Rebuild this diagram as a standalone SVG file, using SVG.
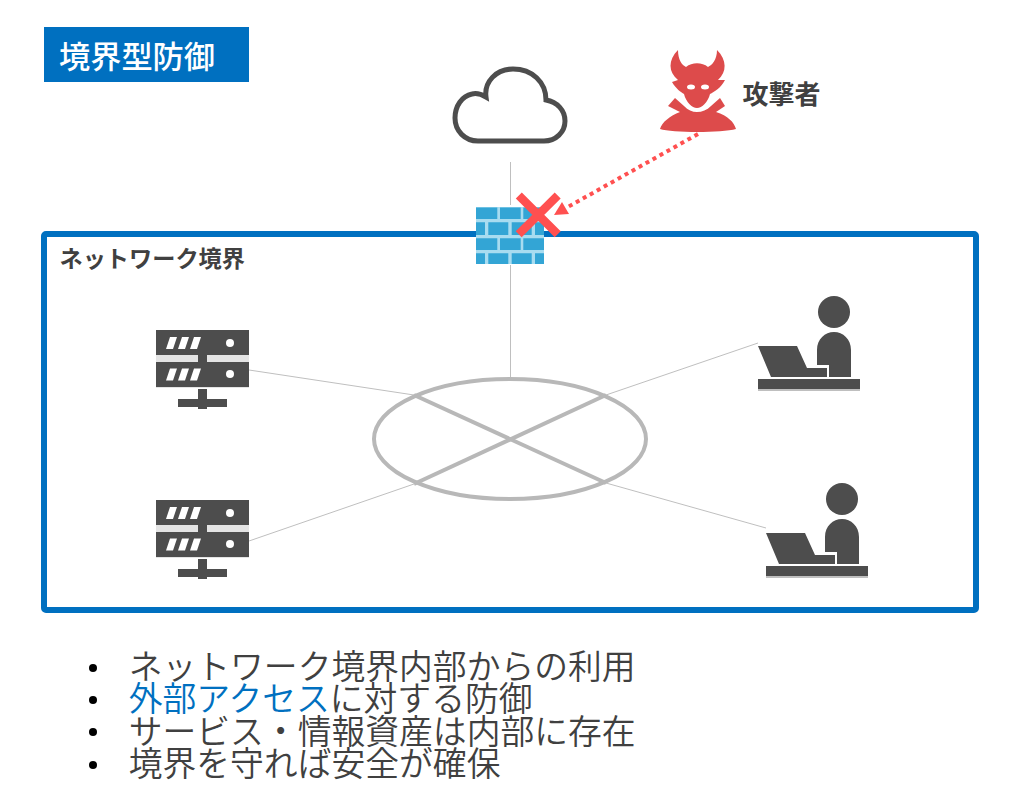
<svg xmlns="http://www.w3.org/2000/svg" width="1021" height="811" viewBox="0 0 1021 811">
<style>
text{font-family:"Noto Sans CJK JP","Noto Sans",sans-serif;fill:#404040}
.thin{stroke:#bfbfbf;stroke-width:1;fill:none}
.thick{stroke:#b8b8b8;stroke-width:4;fill:none}
.dk{fill:#4d4d4d}
.wh{fill:#fff}
.brick{fill:#33a5d5}
.b{font-size:33.800px;font-weight:350}
.dot{fill:#000}
</style>
<defs>
<g id="srv">
<rect x="156" y="330" width="93" height="58" fill="#e4e4e4"/>
<rect class="dk" x="156" y="330" width="93" height="25"/>
<rect class="dk" x="198" y="355" width="9" height="8"/>
<rect class="dk" x="156" y="362" width="93" height="25"/>
<rect class="dk" x="198" y="389" width="9" height="20"/>
<rect class="dk" x="178" y="399" width="49" height="8"/>
<path class="wh" d="M170 337h7l-4 12h-7zM182 337h7l-4 12h-7zM194 337h7l-4 12h-7zM170 368.500h7l-4 12h-7zM182 368.500h7l-4 12h-7zM194 368.500h7l-4 12h-7z"/>
<circle class="wh" cx="230" cy="343" r="4"/>
<circle class="wh" cx="230" cy="374" r="4"/>
</g>
<g id="usr">
<circle class="dk" cx="834" cy="312" r="16"/>
<path class="dk" d="M817 365V350C817 339 825 332 834 332C843 332 851 339 851 350V377H829V365Z"/>
<path class="dk" d="M758 346H797L807 368H827V377H771Z"/>
<rect class="dk" x="758" y="379" width="102" height="10"/>
<rect x="758" y="389" width="102" height="2" fill="#bfbfbf"/>
</g>
</defs>
<g id="title">
<rect x="44" y="27" width="205" height="55" fill="#0070c0"/>
<text x="59" y="68" font-size="31.200" font-weight="500" style="fill:#fff">境界型防御</text>
</g>
<g id="boundary">
<rect x="44" y="234" width="932" height="376" rx="2" fill="none" stroke="#0070c0" stroke-width="6"/>
<text x="59.500" y="267" font-size="23.200" font-weight="700">ネットワーク境界</text>
</g>
<g id="connectors">
<line class="thin" x1="510.500" y1="162" x2="510.500" y2="378"/>
<line class="thin" x1="249" y1="370" x2="414" y2="395"/>
<line class="thin" x1="249" y1="541" x2="414" y2="484"/>
<line class="thin" x1="758" y1="343" x2="606" y2="395"/>
<line class="thin" x1="766" y1="528" x2="606" y2="483"/>
<line x1="698" y1="134" x2="566" y2="208" stroke="#ff5050" stroke-width="4" stroke-dasharray="4 4"/>
<path d="M554 215L562 202L569 214Z" fill="#ff5050"/>
</g>
<g id="hub">
<ellipse class="thick" cx="510" cy="439" rx="136" ry="60"/>
<line class="thick" x1="414" y1="395" x2="606" y2="483"/>
<line class="thick" x1="414" y1="484" x2="606" y2="395"/>
</g>
<g id="cloud">
<path d="M478 141H544C556 141 565 132 565 121C565 110 557 102 546 100C546 82 532 69 513 69C496 69 484 82 486 97C481 94 476 93 472 94C462 96 455 106 455 118C455 131 465 141 478 141Z" fill="#fff" stroke="#4d4d4d" stroke-width="5"/>
</g>
<g id="attacker">
<path fill="#dd4b4b" d="M678 50C668 60 668 72 678 80L672 82C676 89 681 92 684 94C686 102 692 108 697 108C702 108 708 102 710 94C714 92 721 88 725 80L718 80C727 72 727 60 717 50C717 60 712 65 708 67C702 62 692 62 686 67C682 65 678 60 678 50Z"/>
<ellipse cx="691" cy="87" rx="4" ry="2.500" fill="#fff"/>
<ellipse cx="705" cy="87" rx="4" ry="2.500" fill="#fff"/>
<path fill="#dd4b4b" d="M675 98L684 106C688 110 692 112 697 112C702 112 707 110 711 106L720 98L725 106L716 112C728 116 734 122 736 129C722 133 672 133 660 129C662 122 670 116 680 112L668 106Z"/>
<text x="742.500" y="104" font-size="26" font-weight="700">攻撃者</text>
</g>
<g id="firewall">
<rect x="476" y="205" width="68" height="60" fill="#fff"/>
<rect x="476" y="207" width="68" height="57" fill="#a8dcf0"/>
<path class="brick" d="M476 207.500h21.300v11.500h-21.300zM500 207.500h20.700v11.500h-20.700zM523.300 207.500h20.700v11.500h-20.700zM476 222.300h9v12.700h-9zM488.300 222.300h20v12.700h-20zM511.700 222.300h20v12.700h-20zM535 222.300h9v12.700h-9zM476 238.300h21.300v11.700h-21.300zM500 238.300h20.700v11.700h-20.700zM523.300 238.300h20.700v11.700h-20.700zM476 253.300h9v10.700h-9zM488.300 253.300h20v10.700h-20zM511.700 253.300h20v10.700h-20zM535 253.300h9v10.700h-9z"/>
<path d="M518.800 195.500L557.700 234.300M557.700 195.500L518.700 234.300" stroke="#ff5050" stroke-width="8.500" fill="none"/>
</g>
<g id="server1"><use href="#srv"/></g>
<g id="server2"><use href="#srv" y="170"/></g>
<g id="user1"><use href="#usr"/></g>
<g id="user2"><use href="#usr" x="8" y="187"/></g>
<g id="bullets">
<circle class="dot" cx="93" cy="668" r="4"/>
<circle class="dot" cx="93" cy="700" r="4"/>
<circle class="dot" cx="93" cy="732" r="4"/>
<circle class="dot" cx="93" cy="765" r="4"/>
<text class="b" x="128.700" y="679">ネットワーク境界内部からの利用</text>
<text class="b" x="128.700" y="711"><tspan style="fill:#0070c0">外部アクセス</tspan>に対する防御</text>
<text class="b" x="128.700" y="744">サービス・情報資産は内部に存在</text>
<text class="b" x="128.700" y="776">境界を守れば安全が確保</text>
</g>
</svg>
